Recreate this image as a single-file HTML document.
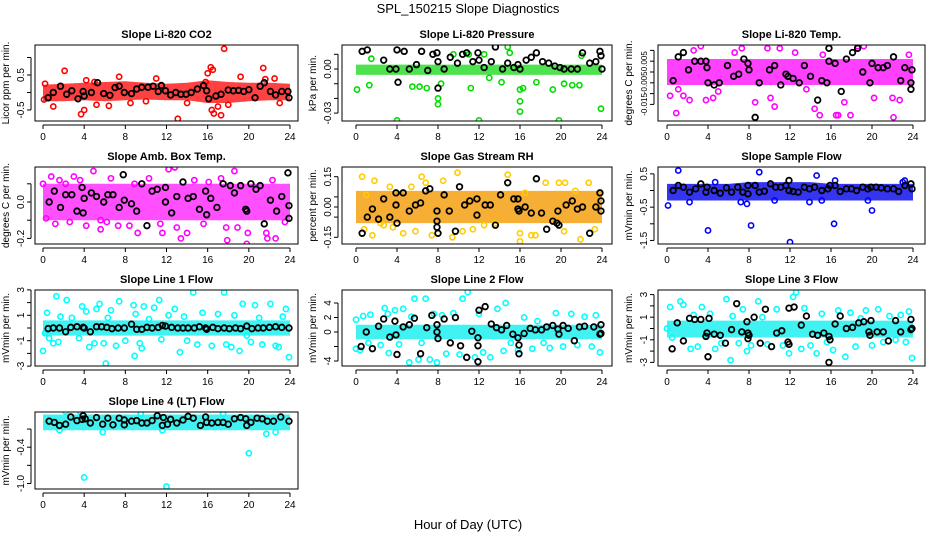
<!DOCTYPE html>
<html><head><meta charset="utf-8"><style>
html,body{margin:0;padding:0;background:#fff;}
svg{display:block;font-family:"Liberation Sans",sans-serif;}
</style></head><body>
<svg id="chart" width="936" height="540" viewBox="0 0 936 540">
<text x="468" y="13" text-anchor="middle" font-size="13">SPL_150215  Slope Diagnostics</text>
<text x="468" y="529" text-anchor="middle" font-size="13">Hour of Day (UTC)</text>
</svg>
<script>
const xTicks = [0,4,8,12,16,20,24];
// ---- Panel data (hour, value) ----
const co2BandHours = [0,2,4,6,8,10,12,14,16,18,20,22,24];
const co2BandLo = [-0.25,-0.25,-0.22,-0.25,-0.22,-0.2,-0.22,-0.22,-0.3,-0.3,-0.25,-0.22,-0.22];
const co2BandHi = [0.22,0.25,0.28,0.3,0.32,0.28,0.25,0.28,0.35,0.3,0.28,0.28,0.25];
const co2Out = [[0.2,0.25],[0.1,-0.2],[1.0,-0.4],[2.1,0.62],[3.7,-0.62],[4.0,-0.5],[4.2,0.35],[5.0,0.3],[5.2,-0.35],[6.4,-0.38],[7.4,0.45],[8.5,-0.3],[11.0,0.4],[13.1,-0.75],[15.8,0.3],[16.0,0.55],[16.3,0.72],[16.5,0.65],[16.4,-0.5],[16.6,-0.6],[17.0,-0.4],[17.3,-0.65],[17.6,1.25],[18.0,-0.35],[19.2,0.45],[21.4,0.7],[21.6,0.38],[22.5,0.4],[23.0,-0.3],[10.0,-0.25],[14.0,-0.3]];
const co2Black = [[0.5,-0.15],[1,0],[1.7,0.18],[2.3,-0.05],[2.8,0.05],[3.4,-0.18],[3.9,0.03],[4,-0.1],[4.7,0],[5.3,0.28],[5.9,-0.03],[6.5,-0.08],[7,0.14],[7.4,0.18],[7.9,0],[8.6,-0.03],[9.1,0.1],[9.6,0.15],[10.2,0.15],[10.7,0.18],[11.2,0.03],[11.5,0.2],[11.9,0.05],[12.4,-0.07],[12.9,0],[13.4,-0.05],[13.9,-0.05],[14.4,0],[15,0.1],[15.6,0.2],[15.9,0.05],[16.1,-0.18],[16.8,-0.1],[17.3,-0.05],[18,0.07],[18.5,0.05],[19,0.06],[19.5,0.03],[20,0.08],[20.6,-0.15],[21.1,0.18],[21.5,0.28],[22.1,0.03],[22.6,-0.07],[23.2,0.03],[23.8,0.03],[23.9,-0.15]];

const presBandLo = [-0.004,-0.004,-0.004,-0.004,-0.004,-0.004,-0.004,-0.004,-0.004,-0.004,-0.004,-0.004,-0.004];
const presBandHi = [0.003,0.003,0.003,0.003,0.003,0.003,0.003,0.003,0.003,0.003,0.003,0.003,0.003];
const presOut = [[0.1,-0.014],[1.3,-0.011],[1.5,0.007],[4,-0.035],[5.5,-0.012],[6.2,-0.012],[6.9,-0.013],[8,-0.02],[8,-0.024],[8.3,-0.01],[9.5,0.01],[11.2,-0.013],[11,0.01],[12,-0.035],[13,-0.006],[14.2,-0.009],[14.8,0.015],[15,0.011],[16,-0.014],[16,-0.022],[16,-0.029],[16.3,-0.013],[17.6,-0.009],[19.2,-0.014],[19.8,-0.035],[20.3,-0.01],[21.1,-0.011],[21.8,-0.011],[23.9,-0.027],[22,0.009],[12.5,0.01]];
const presBlack = [[0.6,0.012],[1.1,0.013],[2.7,0.006],[3.3,0],[3.9,0],[4.0,0.013],[4.1,-0.009],[4.7,0.012],[5.2,0],[5.9,0.003],[6.4,0.012],[7,-0.001],[7.5,0.01],[7.9,0.011],[8,0.005],[8,-0.013],[8.6,0],[9.2,0.008],[9.9,0.004],[10.4,0.01],[10.8,0.011],[11.4,0.005],[11.9,0.011],[12,0.006],[12.5,0.001],[13.2,0.005],[13.6,0.015],[14.3,0],[14.8,0.004],[15.4,0.001],[15.8,0.003],[16,0],[16.6,0.006],[17.1,0.008],[17.6,0.011],[18.2,0.005],[18.8,0.004],[19.4,0.002],[19.9,0.001],[20.3,0],[21,0],[21.6,0],[22.1,0.011],[22.8,0.004],[23.4,0.005],[23.8,0.012],[23.9,0.009],[24,0]];

const tempBandLo = [-0.006,-0.006,-0.006,-0.006,-0.006,-0.006,-0.006,-0.006,-0.006,-0.006,-0.006,-0.006,-0.006];
const tempBandHi = [0.006,0.006,0.006,0.006,0.006,0.006,0.006,0.006,0.006,0.006,0.006,0.006,0.006];
const tempOut = [[0.9,-0.019],[0.3,-0.011],[1.1,-0.008],[1.6,-0.011],[2.2,-0.013],[2.6,0.01],[3.3,0.012],[3.8,-0.013],[4.5,-0.012],[5,-0.009],[6.6,0.009],[7.3,0.011],[8.6,-0.014],[9.8,0.011],[10.1,-0.012],[10.5,-0.016],[11,0.011],[12.5,0.009],[13.6,-0.008],[14.4,-0.017],[14.9,-0.02],[15.2,0.008],[16.5,-0.02],[16.7,-0.02],[17.3,-0.014],[17.9,-0.02],[18.6,0.012],[19.2,0.012],[20.2,-0.012],[21.4,0.018],[22,-0.012],[22.1,-0.021],[22.7,-0.013],[23.6,0.008]];
const tempBlack = [[0.6,-0.004],[1.1,0.007],[1.6,0.009],[2.1,0.001],[2.7,0.005],[3.3,0.005],[3.8,0.005],[3.9,0.002],[4.0,-0.005],[4.6,-0.006],[5.1,-0.005],[5.9,0.003],[6.5,-0.002],[7,-0.001],[7.5,0.006],[7.9,0.004],[8,0.001],[8.6,-0.021],[9,-0.005],[10,0.001],[10.5,0.003],[11.1,-0.006],[11.6,-0.001],[11.8,-0.002],[12.3,-0.003],[12.9,-0.005],[13.4,0.003],[14.0,-0.002],[14.7,-0.013],[15.1,-0.004],[15.6,-0.005],[15.8,0.011],[15.8,0.005],[16.4,0.004],[17,-0.009],[17.5,0.006],[18.1,0.009],[18.6,0.011],[19.1,0],[19.8,-0.005],[20,0.004],[20.6,0.002],[21.1,0.002],[21.5,0.003],[22.1,0.007],[22.8,-0.004],[23.2,0.002],[23.8,-0.008],[23.8,-0.005],[23.9,0.001]];

const ambBandLo = [-0.1,-0.1,-0.1,-0.1,-0.1,-0.1,-0.1,-0.1,-0.1,-0.1,-0.1,-0.1,-0.1];
const ambBandHi = [0.1,0.1,0.1,0.1,0.1,0.1,0.1,0.1,0.1,0.1,0.1,0.1,0.1];
const ambOut = [[0,0.1],[0.3,-0.09],[0.8,0.14],[1.2,-0.12],[1.6,0.12],[2.2,0.1],[2.6,-0.11],[3.0,0.14],[3.6,0.12],[4.2,-0.13],[4.9,0.17],[5.6,-0.1],[5.6,-0.15],[6.2,-0.11],[6.6,0.13],[7.3,-0.13],[8.4,-0.13],[8.9,0.1],[9.2,-0.17],[10.3,0.13],[11.4,-0.12],[11.6,-0.17],[12.2,0.18],[12.8,0.19],[13,-0.14],[13.4,-0.2],[14.0,-0.17],[14.7,0.12],[15.6,-0.12],[16.1,0.11],[17.3,0.13],[17.8,-0.14],[17.9,-0.21],[18.6,0.17],[18.9,-0.14],[19.8,-0.23],[19.9,-0.17],[21.7,-0.17],[21.8,-0.2],[22.6,-0.2],[23.5,-0.11],[22.3,0.12]];
const ambBlack = [[0.6,0],[1.1,0.06],[1.7,-0.03],[2.2,0.04],[2.8,0.04],[3.3,-0.05],[3.8,0.08],[3.9,-0.06],[4,0.02],[4.7,0.05],[5.2,0.03],[5.9,0],[6.3,0.04],[6.8,0.04],[7.4,-0.03],[7.8,0.15],[7.9,0.01],[8.6,-0.01],[9.1,-0.05],[9.6,0.1],[10.1,-0.13],[10.6,0.06],[11.1,0.07],[11.9,0],[11.9,0.08],[12.5,-0.06],[13.0,0.03],[13.6,0.11],[14.1,0.02],[14.6,0.03],[15.2,-0.04],[15.8,0.06],[15.9,-0.07],[16.3,0.02],[16.9,-0.03],[17.5,0.1],[18.2,0.09],[18.6,0.05],[19.2,0.09],[19.7,-0.04],[19.8,-0.05],[20.2,0.1],[20.7,0.07],[21.1,0.09],[21.5,-0.12],[22.1,0.01],[22.7,-0.05],[23.2,0.03],[23.8,0.16],[23.9,-0.02],[23.9,-0.09]];

const rhBandLo = [-0.08,-0.08,-0.08,-0.08,-0.08,-0.08,-0.08,-0.08,-0.08,-0.08,-0.08,-0.08,-0.08];
const rhBandHi = [0.08,0.08,0.08,0.08,0.08,0.08,0.08,0.08,0.08,0.08,0.08,0.08,0.08];
const rhOut = [[0.6,0.15],[0.8,-0.11],[1.0,0.06],[1.6,-0.14],[1.8,0.13],[2.4,-0.08],[2.7,-0.09],[3.3,0.1],[3.6,-0.1],[4.6,-0.13],[5.4,0.1],[5.8,-0.12],[6.4,0.15],[6.8,0.12],[7.4,-0.14],[8.5,0.13],[9.4,-0.15],[9.9,0.17],[10.4,-0.12],[11.4,-0.11],[12.5,-0.09],[13.6,-0.08],[14.8,0.16],[16.0,-0.13],[16.0,-0.17],[16.5,0.07],[17.1,-0.14],[17.5,-0.14],[18.5,0.12],[19.8,0.12],[20.3,-0.12],[20.4,0.12],[21.4,0.08],[21.9,-0.16],[22.7,0.12],[23.3,-0.11]];
const rhBlack = [[0.6,-0.13],[1.1,-0.05],[1.6,-0.01],[2.2,-0.06],[2.7,0.04],[3.3,-0.05],[3.9,0.07],[3.9,0.01],[4,-0.08],[4.6,0.07],[5.2,-0.02],[5.8,0.01],[6.3,0.02],[6.8,0.08],[7.2,0.09],[7.9,-0.02],[7.9,-0.07],[7.9,-0.1],[8.0,-0.13],[8.6,0.06],[9.1,-0.02],[9.7,-0.12],[10.1,0.1],[10.6,0.01],[11.1,0.03],[11.8,0.04],[11.8,-0.04],[12.6,0.01],[13.1,0.01],[13.6,-0.09],[14.1,0.06],[14.8,0.12],[15.4,0.04],[15.8,-0.01],[15.8,0.04],[15.9,-0.02],[16.5,0],[17.1,-0.03],[17.6,0.14],[18.1,-0.03],[18.6,-0.11],[19.2,-0.07],[19.6,-0.08],[19.7,-0.02],[19.8,-0.09],[20.5,0.01],[21.1,0.03],[21.6,-0.01],[22.1,0],[22.8,-0.13],[23.4,0],[23.8,0.07],[23.9,0.03],[23.9,-0.02]];

const sfBandLo = [-0.3,-0.3,-0.3,-0.3,-0.3,-0.3,-0.3,-0.3,-0.3,-0.3,-0.3,-0.3,-0.3];
const sfBandHi = [0.2,0.2,0.2,0.2,0.25,0.25,0.25,0.25,0.2,0.2,0.2,0.2,0.2];
const sfOut = [[0.1,-0.45],[1.1,0.6],[4,-1.2],[4.7,0.25],[7.2,-0.35],[7.8,-0.4],[8.2,-1.05],[9,0.55],[12,-1.55],[14.6,0.45],[16.3,-1],[20,-0.6],[2.2,-0.35],[10.5,-0.3],[13.9,-0.35],[15.1,-0.3],[23,0.25],[23.2,0.3],[16.4,0.3],[19.6,-0.3]];
const sfBlack = [[0.6,0],[1.1,0.15],[1.6,0.1],[2.2,-0.05],[2.8,0.05],[3.3,0.2],[3.8,-0.05],[3.9,0.1],[4.6,0],[5.2,-0.08],[5.8,0.08],[6.3,-0.05],[6.9,0.1],[7.4,-0.05],[7.9,-0.1],[7.9,0.15],[8.6,0.15],[9,-0.05],[9.5,-0.02],[10.1,0.2],[10.6,0.1],[11.1,0.1],[11.6,0.15],[11.9,0.3],[11.9,0],[12.3,-0.03],[12.8,-0.05],[13.4,0.1],[13.9,0.05],[14.4,0.1],[15.1,0],[15.7,0.05],[15.9,0.15],[16.4,0.15],[16.9,-0.03],[17.5,0.05],[18,0.05],[18.5,0],[19.1,0.1],[19.6,0.05],[19.9,0.1],[20.4,0.1],[20.9,0.08],[21.5,0.05],[22.1,0.05],[22.6,-0.03],[23.2,0.15],[23.8,0.2],[23.9,0.05]];

const l1BandLo = [-0.6,-0.6,-0.6,-0.6,-0.6,-0.6,-0.6,-0.6,-0.6,-0.6,-0.6,-0.6,-0.6];
const l1BandHi = [0.6,0.6,0.6,0.6,0.6,0.6,0.6,0.6,0.6,0.6,0.6,0.6,0.6];
const l1Out = [[0,-1.8],[0.2,-0.4],[0.4,1.2],[0.6,-0.8],[1.0,-1.2],[1.3,2.5],[1.5,-1.1],[1.7,0.9],[2.3,2.2],[2.8,0.8],[3.5,-0.8],[3.8,1.7],[4.2,1.3],[4.5,-1.5],[5,-1.2],[5.2,1.5],[5.5,1.9],[5.9,-1.2],[6.1,-2.8],[6.3,0.8],[6.6,1.4],[7.1,-1.4],[7.4,2.1],[8,-1],[8.8,1.8],[8.9,-2.2],[9,1.1],[9.4,-1.2],[9.6,-1.6],[9.8,1.7],[10.3,0.7],[10.8,1.6],[11.3,2.2],[11.5,-0.9],[12.2,1.0],[12.8,1.5],[13.3,-1.9],[13.7,0.9],[14,-1.0],[14.6,2.8],[15,-1.3],[15.5,1.2],[16.4,-1.4],[17,1.1],[17.6,2.8],[17.8,-1.3],[18.3,-1.5],[18.6,1.0],[19.1,-1.8],[19.4,1.9],[19.8,-0.6],[20.2,-1.1],[20.6,1.8],[21,0.8],[21.3,-1.3],[22.1,1.9],[22.6,-1.4],[22.9,-1.5],[23.3,0.9],[23.6,1.5],[23.9,-2.3]];
const l1Black = [[0.5,-0.05],[1,0],[1.6,0],[2.2,-0.3],[2.7,0.05],[3.3,0.1],[3.9,0.05],[4.0,0],[4.6,-0.3],[5.2,0.1],[5.7,0.1],[6.2,0.05],[6.7,-0.05],[7.3,0],[7.9,0],[8.6,0.3],[9.1,-0.1],[9.6,-0.1],[10.1,0.05],[10.6,0],[11.2,0.05],[11.6,0.2],[11.9,0.15],[12.5,0.05],[13.1,0],[13.6,0],[14.1,0],[14.7,0],[15.2,0.1],[15.8,0],[15.9,-0.1],[16.5,0.05],[17,-0.05],[17.6,0],[18.1,-0.05],[18.7,0],[19.2,-0.05],[19.8,0.15],[20.3,-0.05],[20.9,0],[21.4,0],[22,0.05],[22.6,0.1],[23.2,0.05],[23.9,0]];

const l2BandLo = [-1,-1,-1,-1,-1,-1,-1,-1,-1,-1,-1,-1,-1];
const l2BandHi = [1,1,1,1,1,1,1,1,1,1,1,1,1];
const l2Out = [[0,1.7],[0,-2.3],[0.4,-2.5],[0.7,2.2],[1.2,-1.5],[1.4,2.4],[2.4,-1.8],[2.8,3.3],[3.1,2.5],[3.2,-2.9],[3.8,3.0],[4.2,-1.7],[4.6,3.2],[5.2,-4.2],[5.4,2.1],[5.7,4.6],[6.1,-3.8],[6.4,-1.5],[6.8,4.6],[7.2,-3.8],[7.6,2.5],[7.9,-4.2],[8.4,2.3],[8.8,-3.0],[9.5,2.6],[10.1,-3.1],[10.4,4.6],[10.9,5.5],[11.6,-3.5],[12,2.5],[12.4,-2.8],[13.1,-3.5],[13.8,3.2],[14.4,-2.6],[14.6,4.0],[15.1,-1.5],[15.8,-2.5],[16.4,2.0],[17.2,-2.3],[17.7,1.5],[18.3,-1.5],[18.9,-2.2],[19.5,2.6],[20.2,-2.0],[21.0,2.5],[21.6,-1.8],[22.3,2.1],[23,-2.0],[23.4,2.3],[23.8,-2.8]];
const l2Black = [[0.5,-2.0],[1,0],[1.6,-2.3],[2.2,0.8],[2.7,1.8],[3.3,-0.7],[3.8,1.5],[3.9,-0.4],[4,-3.1],[4.6,0.7],[5.2,1.0],[5.7,1.9],[6.3,-3.0],[6.9,0.6],[7.4,2.3],[7.9,1.0],[7.9,0],[8.0,-0.9],[8.6,1.8],[9.2,-1.5],[9.7,2.0],[10.2,-1.9],[10.8,-3.5],[11.3,0.1],[11.9,-4.1],[11.9,-0.8],[11.9,-1.9],[12.0,3.0],[12.6,3.5],[13.2,1.1],[13.7,0.6],[14.2,0.3],[14.7,0.9],[15.3,-0.3],[15.8,-0.8],[15.9,-1.8],[15.9,-3.0],[16.4,-0.2],[17,0.5],[17.5,0.3],[18.1,0.3],[18.6,0.7],[19.2,0.9],[19.7,0.4],[19.8,-0.3],[20.2,0.9],[20.7,0.5],[21.3,-1.2],[21.8,0.7],[22.3,0.8],[23.2,0.7],[23.9,1.0],[23.9,-0.2],[23.8,-0.3]];

const l3BandLo = [-0.8,-0.8,-0.8,-0.8,-0.8,-0.8,-0.8,-0.8,-0.8,-0.8,-0.8,-0.8,-0.8];
const l3BandHi = [0.7,0.7,0.7,0.7,0.7,0.7,0.7,0.7,0.7,0.7,0.7,0.7,0.7];
const l3Out = [[0,0],[0.3,1.9],[0.5,-0.8],[1.3,2.4],[1.6,2.1],[2.3,-1.8],[2.6,1.2],[3.0,-1.6],[3.4,1.9],[3.8,-0.6],[4.2,1.3],[4.7,-1.8],[5.3,-1.3],[5.8,2.6],[6.2,-2.8],[6.4,1.1],[7.0,-1.3],[7.4,1.7],[7.8,-2.0],[8.2,-1.5],[8.9,2.4],[9.3,1.0],[9.8,-1.4],[10.2,-1.6],[10.7,1.7],[11.3,-1.5],[11.9,-2.2],[12.3,2.8],[12.6,3.2],[13.1,-1.8],[13.4,1.8],[14.0,-1.5],[14.6,-2.2],[15.1,1.3],[15.6,-1.2],[16.2,-1.9],[16.7,1.6],[17.4,-2.5],[17.9,1.4],[18.4,-1.6],[18.9,0.9],[19.4,1.6],[20.0,-1.5],[20.6,1.7],[21.1,-1.2],[21.7,1.1],[22.3,-1.0],[22.8,1.2],[23.3,-1.2],[23.6,1.5],[23.9,-2.6]];
const l3Black = [[0.5,-1.8],[1,0.5],[1.6,-1.1],[2.2,0.9],[2.7,0.8],[3.3,0.8],[3.8,-0.7],[3.9,-0.4],[4.0,-2.5],[4.1,0.9],[4.6,-0.5],[5.2,-0.6],[5.7,-1.3],[6.3,-0.1],[6.8,2.2],[7.3,-0.3],[7.8,0.6],[7.9,-0.4],[7.9,-0.9],[8.0,-0.6],[8.5,1.0],[9.1,-1.3],[9.6,1.7],[10.2,-1.6],[10.7,-0.4],[11.2,-0.2],[11.9,1.8],[11.9,-1.4],[11.8,-1.2],[12.4,1.9],[13.1,0.3],[13.6,1.1],[14.2,-0.5],[14.7,-0.6],[15.3,-0.4],[15.8,-0.7],[15.9,-1.0],[15.8,-3.0],[16.4,0.4],[16.9,1.1],[17.5,0.0],[18.1,0.1],[18.7,0.5],[19.2,0.6],[19.7,-0.3],[19.8,-0.6],[19.9,0.7],[20.5,-0.3],[21.1,-0.3],[21.6,-1.1],[22.3,0.7],[22.8,-0.3],[23.8,0.8],[23.8,-0.1],[23.9,0]];

const l4BandLo = [-0.12,-0.12,-0.12,-0.12,-0.12,-0.12,-0.12,-0.12,-0.12,-0.12,-0.12,-0.12,-0.12];
const l4BandHi = [0.14,0.14,0.14,0.14,0.14,0.14,0.14,0.14,0.14,0.14,0.14,0.14,0.14];
const l4Out = [[4,-0.9],[12,-1.05],[20,-0.5],[2.2,0.19],[3.6,0.19],[1.6,-0.12],[21.7,-0.18],[22.6,-0.15],[9.5,0.15],[17.5,0.15],[11.6,-0.12],[5.8,-0.15]];
const l4Black = [[0.6,0.03],[1.1,0.01],[1.6,-0.04],[2.2,-0.02],[2.7,0.1],[3.3,0.04],[3.8,0.06],[3.9,0.12],[4.1,0.07],[4.6,0],[5.2,0.09],[5.8,-0.02],[6.3,0.08],[6.8,-0.03],[7.4,0.08],[7.9,0.05],[7.9,-0.03],[8.6,0.03],[9.1,0.04],[9.6,0],[10.1,0],[10.6,0.04],[11.1,0.12],[11.6,-0.04],[11.7,0.09],[12.1,-0.02],[12.4,0.06],[13,0],[13.6,0.05],[14.1,0.11],[14.6,0.08],[15.3,-0.04],[15.8,0.1],[15.9,0.01],[16.4,0],[17,0.01],[17.5,0.01],[18,-0.02],[18.6,0.07],[19.2,0.09],[19.7,0.07],[19.8,-0.04],[20.2,0.01],[20.8,0.08],[21.3,0.07],[21.8,0.03],[22.4,0.03],[23.1,0.1],[23.9,0.03]];

const NS = "http://www.w3.org/2000/svg";
const svg = document.getElementById('chart');
function mk(tag, attrs, parent){ const e=document.createElementNS(NS,tag); for(const k in attrs) e.setAttribute(k,attrs[k]); (parent||svg).appendChild(e); return e; }

const cols = [{l:35,r:298,x0:43,x24:290},{l:342,r:612,x0:356,x24:602},{l:658,r:925,x0:667,x24:913}];
const rows = [{t:45,b:121},{t:167,b:244},{t:290,b:366},{t:412,b:489}];

const panels = [
 {key:'co2',title:'Slope Li-820 CO2',ylab:'Licor ppm per min.',c:0,r:0,zeroY:92.5,ppu:35,ticks:[-0.5,0,0.5,1],lab:{'-0.5':'-0.5','0.5':'0.5'},col:'#ff0000',band:'#ff2020',lo:co2BandLo,hi:co2BandHi,out:co2Out,blk:co2Black},
 {key:'pressure',title:'Slope Li-820 Pressure',ylab:'kPa per min.',c:1,r:0,zeroY:69,ppu:1470,ticks:[-0.03,-0.02,-0.01,0,0.01],lab:{'-0.03':'-0.03','0':'0.00'},col:'#00dd00',band:'#30dd30',lo:presBandLo,hi:presBandHi,out:presOut,blk:presBlack},
 {key:'temp',title:'Slope Li-820 Temp.',ylab:'degrees C per min.',c:2,r:0,zeroY:72,ppu:2160,ticks:[-0.015,-0.01,-0.005,0,0.005,0.01],lab:{'-0.015':'-0.015','-0.005':'-0.005','0.005':'0.005'},labSize:8,col:'#ff00ff',band:'#ff20ff',lo:tempBandLo,hi:tempBandHi,out:tempOut,blk:tempBlack},
 {key:'amb',title:'Slope Amb. Box Temp.',ylab:'degrees C per min.',c:0,r:1,zeroY:202,ppu:182,ticks:[-0.2,-0.1,0,0.1,0.2],lab:{'-0.2':'-0.2','0':'0.0','0.2':'0.2'},col:'#ff00ff',band:'#ff30ff',lo:ambBandLo,hi:ambBandHi,out:ambOut,blk:ambBlack},
 {key:'rh',title:'Slope Gas Stream RH',ylab:'percent per min.',c:1,r:1,zeroY:207,ppu:202,ticks:[-0.15,-0.05,0,0.05,0.15],lab:{'-0.15':'-0.15','0':'0.00','0.15':'0.15'},col:'#ffcc00',band:'#f5a010',lo:rhBandLo,hi:rhBandHi,out:rhOut,blk:rhBlack},
 {key:'sample-flow',title:'Slope Sample Flow',ylab:'mVmin per min.',c:2,r:1,zeroY:190.5,ppu:33.3,ticks:[-1.5,-1,-0.5,0,0.5],lab:{'-1.5':'-1.5','-0.5':'-0.5','0.5':'0.5'},col:'#0000ff',band:'#1010ee',lo:sfBandLo,hi:sfBandHi,out:sfOut,blk:sfBlack},
 {key:'line1',title:'Slope Line 1 Flow',ylab:'mVmin per min.',c:0,r:2,zeroY:328,ppu:12.7,ticks:[-3,-2,-1,0,1,2,3],lab:{'-3':'-3','-1':'-1','1':'1','3':'3'},col:'#00ffff',band:'#20f0f0',lo:l1BandLo,hi:l1BandHi,out:l1Out,blk:l1Black},
 {key:'line2',title:'Slope Line 2 Flow',ylab:'mVmin per min.',c:1,r:2,zeroY:332,ppu:7.25,ticks:[-4,-2,0,2,4],lab:{'-4':'-4','0':'0','2':'2','4':'4'},col:'#00ffff',band:'#20f0f0',lo:l2BandLo,hi:l2BandHi,out:l2Out,blk:l2Black},
 {key:'line3',title:'Slope Line 3 Flow',ylab:'mVmin per min.',c:2,r:2,zeroY:328.5,ppu:11.3,ticks:[-3,-2,-1,0,1,2,3],lab:{'-3':'-3','-1':'-1','1':'1','3':'3'},col:'#00ffff',band:'#20f0f0',lo:l3BandLo,hi:l3BandHi,out:l3Out,blk:l3Black},
 {key:'line4',title:'Slope Line 4 (LT) Flow',ylab:'mVmin per min.',c:0,r:3,zeroY:423,ppu:60.5,ticks:[-1,-0.7,-0.4,-0.1,0.2],lab:{'-1':'-1.0','-0.4':'-0.4','0.2':'0.2'},col:'#00ffff',band:'#20f0f0',lo:l4BandLo,hi:l4BandHi,out:l4Out,blk:l4Black}
];

panels.forEach(p=>{
  const C=cols[p.c], R=rows[p.r];
  const g=mk('g',{});
  
  
  const xs=h=>C.x0+(C.x24-C.x0)*h/24;
  const ys=v=>p.zeroY-v*p.ppu;
  const clipId='clip-'+p.key;
  const cp=mk('clipPath',{id:clipId},g); mk('rect',{x:C.l,y:R.t,width:C.r-C.l,height:R.b-R.t},cp);
  const t=mk('text',{x:(C.l+C.r)/2,y:R.t-7,'text-anchor':'middle','font-size':'11','font-weight':'bold'},g); t.textContent=p.title;
  
  
  const yl=mk('text',{x:0,y:0,'text-anchor':'middle','font-size':'10',transform:`translate(${C.l-26},${(R.t+R.b)/2}) rotate(-90)`},g); yl.textContent=p.ylab;
  
  
  const pg=mk('g',{'clip-path':`url(#${clipId})`},g);
  let pts=[];
  co2BandHours.forEach((h,i)=>pts.push(xs(h)+','+ys(p.hi[i])));
  for(let i=co2BandHours.length-1;i>=0;i--) pts.push(xs(co2BandHours[i])+','+ys(p.lo[i]));
  const band=mk('polygon',{points:pts.join(' '),fill:p.band,'fill-opacity':'0.85'},pg);
  
  
  p.out.forEach(d=>{
    const c=mk('circle',{cx:xs(d[0]),cy:ys(d[1]),r:2.6,fill:'none',stroke:p.col,'stroke-width':1.6},pg);
    
    
  });
  p.blk.forEach(d=>{
    const c=mk('circle',{cx:xs(d[0]),cy:ys(d[1]),r:2.8,fill:'none',stroke:'#000','stroke-width':1.8},pg);
    
    
  });
  mk('rect',{x:C.l,y:R.t,width:C.r-C.l,height:R.b-R.t,fill:'none',stroke:'#000','stroke-width':1},g);
  mk('line',{x1:xs(0),x2:xs(24),y1:R.b+4,y2:R.b+4,stroke:'#000'},g);
  xTicks.forEach(h=>{
    mk('line',{x1:xs(h),x2:xs(h),y1:R.b+4,y2:R.b+8,stroke:'#000'},g);
    const tx=mk('text',{x:xs(h),y:R.b+19,'text-anchor':'middle','font-size':'10'},g); tx.textContent=h;
    
    
  });
  const yv=p.ticks.filter(v=>ys(v)>=R.t-1&&ys(v)<=R.b+1);
  mk('line',{x1:C.l-4,x2:C.l-4,y1:ys(Math.max(...yv)),y2:ys(Math.min(...yv)),stroke:'#000'},g);
  yv.forEach(v=>{
    mk('line',{x1:C.l-8,x2:C.l-4,y1:ys(v),y2:ys(v),stroke:'#000'},g);
    const lb=p.lab[String(v)];
    if(lb){
      const ty=mk('text',{x:0,y:0,'text-anchor':'middle','font-size':String(p.labSize||10),transform:`translate(${C.l-11},${ys(v)}) rotate(-90)`},g); ty.textContent=lb;
      
      
    }
  });
});
</script>
</body></html>
